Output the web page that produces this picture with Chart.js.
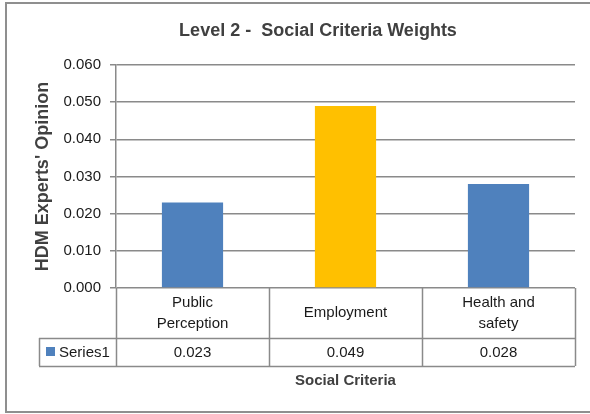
<!DOCTYPE html>
<html>
<head>
<meta charset="utf-8">
<script src="https://cdn.jsdelivr.net/npm/chart.js@4"></script>
<style>
  html, body { margin: 0; padding: 0; background: #fff; }
  #wrap { width: 590px; height: 414px; }
</style>
</head>
<body>
<div id="wrap"><canvas id="myChart" width="590" height="414"></canvas></div>
<script>
// Data
const categories = [['Public', 'Perception'], ['Employment'], ['Health and', 'safety']];
const seriesName = 'Series1';
const values = [0.023, 0.049, 0.028];
const barColors = ['#4F81BD', '#FFC000', '#4F81BD'];
const yTicks = [0, 0.01, 0.02, 0.03, 0.04, 0.05, 0.06];

const FONT = "'Liberation Sans', Arial, sans-serif";
const LINE = '#8a8a8a';

// Draws the frame, title, data table and x-axis title like Excel does
const tablePlugin = {
    id: 'dataTable',
    afterDraw(chart) {
        const ctx = chart.ctx;
        const area = chart.chartArea;
        const xs = chart.scales.x;
        const step = (area.right - area.left) / categories.length;
        const rowTop = area.bottom;
        const rowMid = 338;
        const rowBot = 366;
        const legendLeft = 39;

        ctx.save();
        // outer frame
        ctx.strokeStyle = '#8f8f8f';
        ctx.lineWidth = 2;
        ctx.strokeRect(6, 3, 620, 409);

        // chart title
        ctx.fillStyle = '#404040';
        ctx.font = 'bold 18px ' + FONT;
        ctx.textAlign = 'center';
        ctx.textBaseline = 'middle';
        ctx.fillText('Level 2 -  Social Criteria Weights', 318, 31);

        // table grid
        ctx.strokeStyle = LINE;
        ctx.lineWidth = 1.5;
        ctx.beginPath();
        for (let i = 0; i <= categories.length; i++) {
            const x = Math.round(area.left + i * step) + 0.5;
            ctx.moveTo(x, rowTop);
            ctx.lineTo(x, rowBot);
        }
        ctx.moveTo(legendLeft + 0.5, rowMid);
        ctx.lineTo(legendLeft + 0.5, rowBot);
        ctx.moveTo(legendLeft, rowMid + 0.5);
        ctx.lineTo(area.right, rowMid + 0.5);
        ctx.moveTo(legendLeft, rowBot + 0.5);
        ctx.lineTo(area.right, rowBot + 0.5);
        ctx.stroke();

        // category labels and values
        ctx.fillStyle = '#1a1a1a';
        ctx.font = '15px ' + FONT;
        categories.forEach((lines, i) => {
            const cx = xs.getPixelForValue(i);
            const cy = (rowTop + rowMid) / 2;
            const lh = 21;
            lines.forEach((t, j) => {
                ctx.fillText(t, cx, cy + (j - (lines.length - 1) / 2) * lh);
            });
            ctx.fillText(values[i].toFixed(3), cx, (rowMid + rowBot) / 2 + 1);
        });

        // legend key in the table
        ctx.fillStyle = barColors[0];
        ctx.fillRect(46, 347, 9, 9);
        ctx.fillStyle = '#1a1a1a';
        ctx.textAlign = 'left';
        ctx.fillText(seriesName, 59, (rowMid + rowBot) / 2 + 1);

        // x axis title
        ctx.fillStyle = '#404040';
        ctx.font = 'bold 15px ' + FONT;
        ctx.textAlign = 'center';
        ctx.fillText('Social Criteria', (area.left + area.right) / 2, 381);
        ctx.restore();
    }
};

const config = {
    type: 'bar',
    data: {
        labels: categories.map(c => c.join(' ')),
        datasets: [{
            label: seriesName,
            data: values,
            backgroundColor: barColors,
            categoryPercentage: 1,
            barPercentage: 0.4
        }]
    },
    options: {
        responsive: false,
        animation: false,
        layout: { padding: { top: 65, bottom: 126, left: 0, right: 15 } },
        plugins: {
            legend: { display: false },
            tooltip: { enabled: false }
        },
        scales: {
            x: { display: false },
            y: {
                min: 0,
                max: 0.06,
                afterFit(scale) { scale.width = 116; },
                afterBuildTicks(scale) { scale.ticks = yTicks.map(v => ({ value: v })); },
                ticks: {
                    color: '#1a1a1a',
                    font: { family: FONT, size: 15 },
                    padding: 9,
                    callback: v => v.toFixed(3)
                },
                grid: { color: LINE, lineWidth: 1.5, tickLength: 6 },
                border: { color: LINE, width: 1.5 },
                title: {
                    display: true,
                    text: "HDM Experts' Opinion",
                    color: '#404040',
                    font: { family: FONT, size: 18, weight: 'bold' },
                    padding: { top: 32 }
                }
            }
        }
    },
    plugins: [tablePlugin]
};

const myChart = new Chart(document.getElementById('myChart'), config);
</script>
</body>
</html>
